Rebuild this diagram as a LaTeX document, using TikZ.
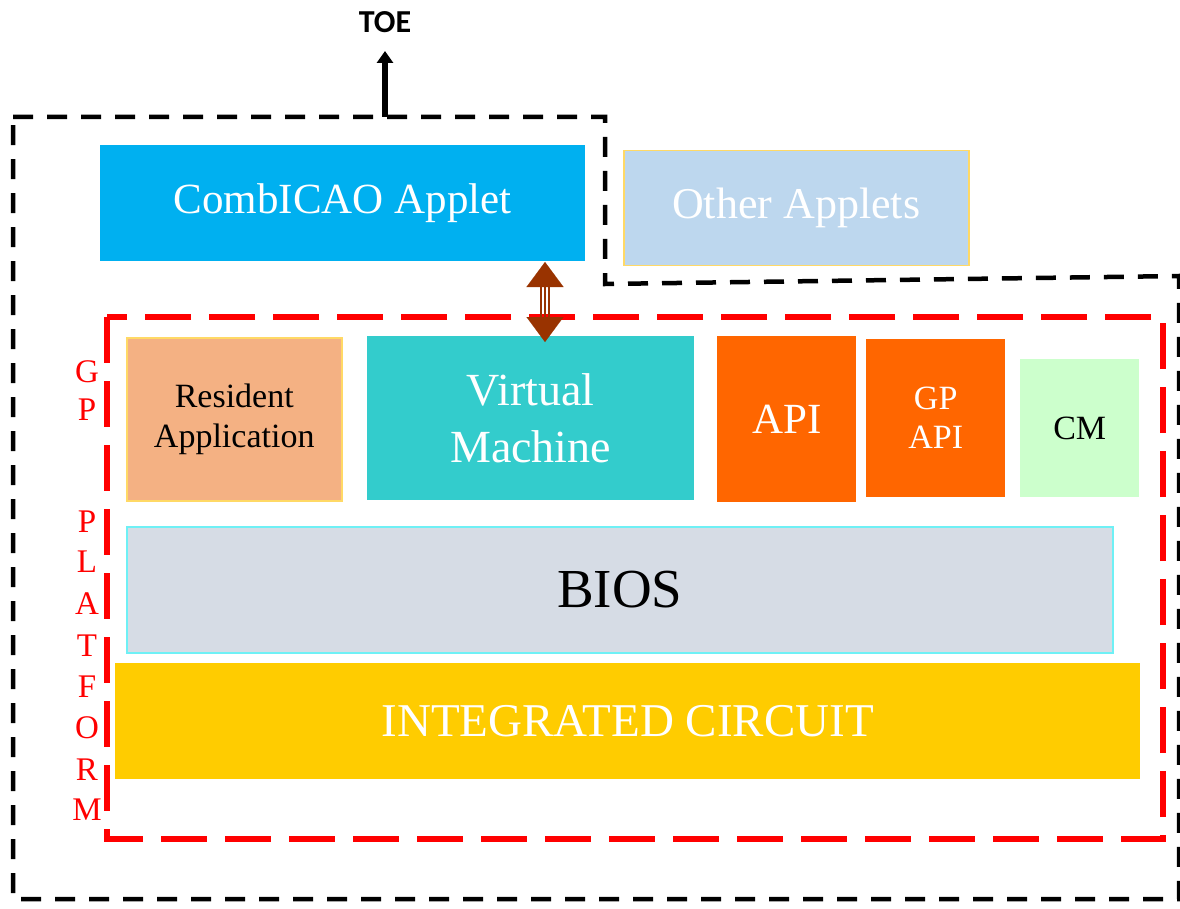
\documentclass[tikz,border=0pt]{standalone}
\usepackage{fontspec}
\setmainfont{Liberation Serif}
\newfontfamily\toefont{Carlito}
\usetikzlibrary{arrows.meta}
\definecolor{combi}{RGB}{0,176,240}
\definecolor{other}{RGB}{189,215,238}
\definecolor{yellowb}{RGB}{255,217,102}
\definecolor{resident}{RGB}{244,177,131}
\definecolor{vmc}{RGB}{51,204,204}
\definecolor{apic}{RGB}{255,102,0}
\definecolor{cmc}{RGB}{204,255,204}
\definecolor{biosc}{RGB}{214,220,229}
\definecolor{biosb}{RGB}{110,240,245}
\definecolor{icc}{RGB}{255,204,0}
\definecolor{brownc}{RGB}{153,51,0}
\definecolor{redd}{RGB}{255,0,0}
\tikzset{
  box/.style={inner sep=0pt, anchor=north west, align=center},
  toeline/.style={draw=black, line width=4.5pt, dash pattern=on 20pt off 14pt},
  gpline/.style={draw=redd, line width=6pt, dash pattern=on 46pt off 18pt},
  gpletter/.style={text=redd, font=\fontsize{33}{33}\selectfont, inner sep=0pt},
  shaft/.style={draw=brownc, line width=1.2pt},
  head/.style={draw=brownc, fill=brownc, line width=0.1pt, -{Triangle[width=37pt,length=25pt]}},
}
\begin{document}
\begin{tikzpicture}[x=1pt,y=-1pt]
\useasboundingbox (0,0) rectangle (1180,909);
% TOE outline
\draw[toeline] (13,117) -- (605,117) -- (605,284) -- (1179,276) -- (1179,899) -- (13,899) -- cycle;
% TOE label and arrow
\node[font=\toefont\bfseries\fontsize{32}{32}\selectfont, inner sep=0pt] (toe) at (385,22) {TOE};
\coordinate (toeb) at (385,117);
\coordinate (toet) at (385,51);
\draw[line width=5.5pt, -{Triangle[width=16pt,length=12pt]}] (toeb) -- (toet);
% Applets
\node[box, fill=combi, minimum width=485pt, minimum height=116pt, text=white,
      font=\fontsize{43}{50}\selectfont] (ca) at (100,145) {CombICAO Applet};
\node[box, fill=other, draw=yellowb, line width=1.5pt, minimum width=345pt, minimum height=115pt, text=white,
      font=\fontsize{44}{50}\selectfont] (oa) at (623,150) {Other Applets};
% GP platform outline
\draw[gpline] (107,317) rectangle (1163,839);
% letters
\foreach \l/\y [count=\i] in {G/372,P/410,P/522,L/562,A/604,T/646,F/687,O/728,R/770,M/810}
  \node[gpletter] (gp\i) at (87,\y) {\l};
% platform boxes
\node[box, fill=resident, draw=yellowb, line width=1.5pt, minimum width=215pt, minimum height=163pt,
      font=\fontsize{34}{40}\selectfont] (ra) at (126,337) {Resident\\Application};
\node[box, fill=vmc, minimum width=327pt, minimum height=164pt, text=white,
      font=\fontsize{46}{57}\selectfont] (vm) at (367,336) {Virtual\\Machine};
\node[box, fill=apic, minimum width=139pt, minimum height=166pt, text=white,
      font=\fontsize{43}{50}\selectfont] (api) at (717,336) {API};
\node[box, fill=apic, minimum width=139pt, minimum height=158pt, text=white,
      font=\fontsize{34}{39}\selectfont] (gpapi) at (866,339) {GP\\API};
\node[box, fill=cmc, minimum width=119pt, minimum height=138pt,
      font=\fontsize{34}{40}\selectfont] (cm) at (1020,359) {CM};
\node[box, fill=biosc, draw=biosb, line width=1.5pt, minimum width=986pt, minimum height=126pt,
      font=\fontsize{55}{60}\selectfont] (bios) at (126,526) {BIOS};
\node[box, fill=icc, minimum width=1025pt, minimum height=116pt, text=white,
      font=\fontsize{47}{50}\selectfont] (ic) at (115,663) {INTEGRATED CIRCUIT};
% double arrow between applet and VM
\coordinate (at) at (545,262);
\coordinate (ab) at (545,342);
\coordinate (atm) at (545,287);
\coordinate (abm) at (545,317);
\draw[shaft] ([xshift=-4pt]atm) -- ([xshift=-4pt]abm);
\draw[shaft] (atm) -- (abm);
\draw[shaft] ([xshift=4pt]atm) -- ([xshift=4pt]abm);
\draw[head] (atm) -- (at);
\draw[head] (abm) -- (ab);
\end{tikzpicture}
\end{document}
